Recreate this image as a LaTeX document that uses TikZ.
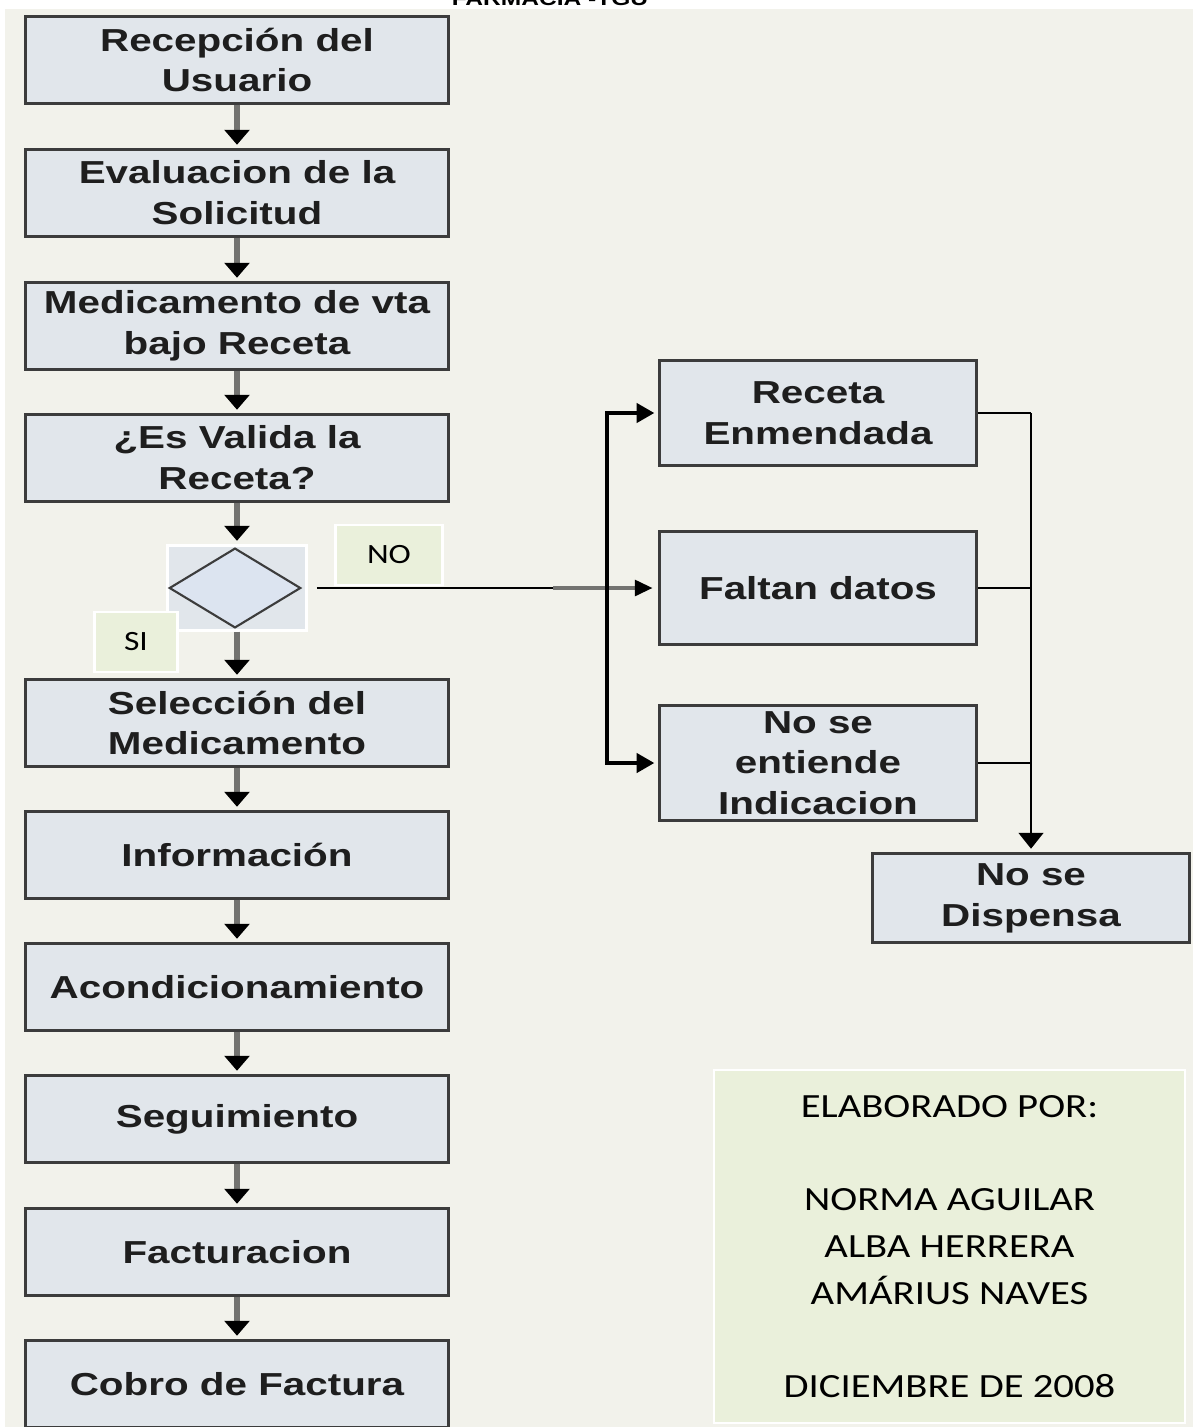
\documentclass[tikz,border=0pt]{standalone}
\usepackage{fontspec}
\usetikzlibrary{arrows.meta,shapes.geometric}
\newfontfamily\boxfont[FakeStretch=1.27]{Liberation Sans}
\newfontfamily\notefont[FakeStretch=1.2]{Carlito}

\begin{document}
\begin{tikzpicture}[x=0.02cm, y=-0.02cm,
        paso/.style={draw=boxline, line width=1.6pt, fill=boxfill, text=boxtext,
            minimum width=240.4pt, minimum height=49.3pt, inner sep=0pt, align=center,
            font=\boxfont\bfseries\fontsize{18.1}{23.2}\selectfont},
        caso/.style={paso, minimum width=180.8pt},
        etiqueta/.style={draw=white, line width=1.5pt, fill=labelfill, inner sep=0pt,
            minimum height=34pt, font=\notefont\fontsize{15.9}{18}\selectfont},
        flecha/.style={draw=arrowgray, line width=3.2pt, shorten >=2pt,
            -{Triangle[width=14pt, length=8.5pt, color=black]}},
        linea/.style={draw=black, line width=1.3pt},
        ramal/.style={draw=black, line width=1.8pt, shorten >=2pt,
            -{Triangle[width=11pt, length=10pt]}}]
        % Define colors
        \definecolor{bg}{RGB}{242, 242, 235}
        \definecolor{boxfill}{RGB}{225, 230, 235}
        \definecolor{boxline}{RGB}{60, 60, 60}
        \definecolor{boxtext}{RGB}{30, 30, 30}
        \definecolor{arrowgray}{RGB}{115, 115, 112}
        \definecolor{labelfill}{RGB}{234, 240, 219}
        \definecolor{diafill}{RGB}{220, 228, 240}

        % Page and background
        \useasboundingbox (0,0) rectangle (1193,1427);
        \fill[white] (0,0) rectangle (1193,1427);
        \fill[bg] (5,9) rectangle (1193,1427);
        \node[anchor=base, font=\boxfont\bfseries\fontsize{11}{13}\selectfont] (titulo) at (550,5) {FARMACIA -TGU};

        % --- MAIN COLUMN ---
        \node[paso] (recep) at (237,60) {Recepción del\\Usuario};
        \node[paso] (evalua) at (237,193) {Evaluacion de la\\Solicitud};
        \node[paso] (medic) at (237,326) {Medicamento de vta\\bajo Receta};
        \node[paso] (valida) at (237,458) {¿Es Valida la\\Receta?};
        \node[draw=white, line width=1.5pt, fill=boxfill, minimum width=79.4pt, minimum height=48.2pt, inner sep=0pt] (dbg) at (237,588) {};
        \node[draw=boxline, line width=1.2pt, fill=diafill, diamond, aspect=1.65, minimum width=74.8pt, minimum height=45.4pt, inner sep=0pt] (dia) at (235,588) {};
        \node[paso] (selec) at (237,723) {Selección del\\Medicamento};
        \node[paso] (info) at (237,855) {Información};
        \node[paso] (acond) at (237,987) {Acondicionamiento};
        \node[paso] (segui) at (237,1119) {Seguimiento};
        \node[paso] (factu) at (237,1252) {Facturacion};
        \node[paso] (cobro) at (237,1384) {Cobro de Factura};

        % Labels of the decision
        \node[etiqueta, minimum width=61.2pt] (no) at (389,555) {NO};
        \node[etiqueta, minimum width=47pt] (si) at (136,642) {SI};

        % --- RIGHT COLUMN ---
        \node[caso, minimum height=59.5pt] (receta) at (818,413) {Receta\\Enmendada};
        \node[caso, minimum height=64pt] (faltan) at (818,588) {Faltan datos};
        \node[caso, minimum height=65.2pt] (noent) at (818,763) {No se\\entiende\\Indicacion};
        \node[caso, minimum width=180.3pt, minimum height=50.5pt] (nodisp) at (1031,898) {No se\\Dispensa};

        % Signature box
        \node[fill=labelfill, draw=white, line width=1pt, minimum width=268pt, minimum height=201pt, align=center,
            font=\notefont\fontsize{19.3}{26.6}\selectfont] (firma) at (949.5,1246.5)
            {ELABORADO POR:\\[26.6pt]NORMA AGUILAR\\ALBA HERRERA\\AMÁRIUS NAVES\\[26.6pt]DICIEMBRE DE 2008};

        % Main flow
        \draw[flecha] (recep) -- (evalua);
        \draw[flecha] (evalua) -- (medic);
        \draw[flecha] (medic) -- (valida);
        \draw[flecha] (valida) -- (dbg);
        \draw[flecha] (dbg) -- (selec);
        \draw[flecha] (selec) -- (info);
        \draw[flecha] (info) -- (acond);
        \draw[flecha] (acond) -- (segui);
        \draw[flecha] (segui) -- (factu);
        \draw[flecha] (factu) -- (cobro);

        % Branch NO
        \coordinate (corte) at (553,588);
        \coordinate (rama) at (607,588);
        \draw[linea, shorten <=5pt] (dbg.east) -- (corte);
        \draw[draw=arrowgray, line width=1.8pt, shorten >=3pt, -{Triangle[width=9pt, length=10pt, color=black]}] (corte) -- (faltan.west);
        \draw[ramal] (rama) |- (receta.west);
        \draw[ramal] (rama) |- (noent.west);

        % Join to No se Dispensa
        \coordinate (junta) at (1031,413);
        \draw[linea] (receta.east) -- (junta);
        \draw[linea] (faltan.east) -- (faltan.east -| junta);
        \draw[linea] (noent.east) -- (noent.east -| junta);
        \draw[linea, shorten >=2pt, -{Triangle[width=14pt, length=9pt]}] (junta) -- (nodisp.north);
    \end{tikzpicture}
\end{document}
